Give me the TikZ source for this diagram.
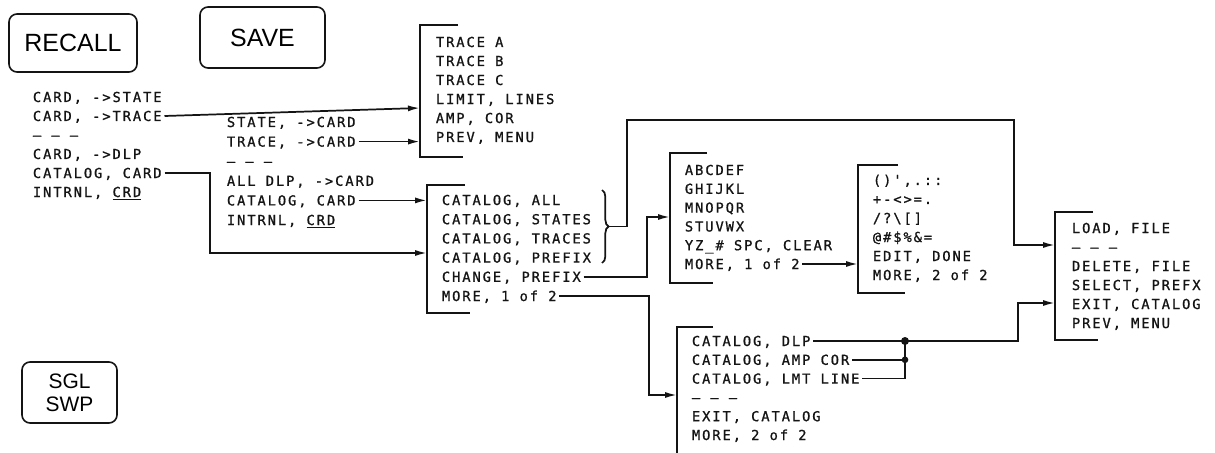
\documentclass[tikz,border=0pt]{standalone}
\usepackage{fontspec}
\usepackage{tikz}
\usetikzlibrary{calc,arrows,arrows.meta,decorations.pathreplacing}
\newfontfamily\plotfont[LetterSpace=14,FakeBold=1]{DejaVu Sans Mono}
\newfontfamily\keyfont{Liberation Sans}
\definecolor{cInk}{RGB}{20,20,20}
\newcommand{\tripdash}{\textendash\ \textendash\ \textendash}

\begin{document}
\begin{tikzpicture}[x=0.75pt,y=-0.75pt,
  item/.style={anchor=west,inner xsep=2pt,inner ysep=0pt,text height=7.5pt,text depth=0pt,cInk,font=\plotfont\fontsize{10.3}{12}\selectfont},
  key/.style={draw=cInk,line width=1.2pt,rounded corners=6pt,align=center,font=\keyfont\fontsize{18.7}{19}\selectfont},
  bar/.style={cInk,line width=1.3pt},
  wire/.style={cInk,line width=1.3pt},
  conn/.style={wire,-{Latex[length=9pt,width=4.5pt]}}]
  \useasboundingbox (0,0) rectangle (1215,453);

  \node[key,minimum width=96pt,minimum height=43.5pt] (recall) at (73,43) {RECALL};
  \node[key,minimum width=93.75pt,minimum height=45.75pt] (save) at (262.5,37.5) {SAVE};
  \node[key,minimum width=71.25pt,minimum height=45.75pt,font=\keyfont\fontsize{15.7}{17}\selectfont] (sglswp) at (69.5,392.5) {SGL\\SWP};

  \foreach \t [count=\i] in {{CARD, ->STATE},{CARD, ->TRACE},{\tripdash},{CARD, ->DLP},{CATALOG, CARD},{INTRNL, \underline{CRD}}}
    \node[item] (rc\i) at (30,{97+19*(\i-1)}) {\t};
  \foreach \t [count=\i] in {{STATE, ->CARD},{TRACE, ->CARD},{\tripdash},{ALL DLP, ->CARD},{CATALOG, CARD},{INTRNL, \underline{CRD}}}
    \node[item] (sv\i) at (224,{122+19.6*(\i-1)}) {\t};
  \foreach \t [count=\i] in {{TRACE A},{TRACE B},{TRACE C},{LIMIT, LINES},{AMP, COR},{PREV, MENU}}
    \node[item] (tr\i) at (433,{42+19*(\i-1)}) {\t};
  \foreach \t [count=\i] in {{CATALOG, ALL},{CATALOG, STATES},{CATALOG, TRACES},{CATALOG, PREFIX},{CHANGE, PREFIX},{MORE, 1 of 2}}
    \node[item] (ct\i) at (439,{200+19.2*(\i-1)}) {\t};
  \foreach \t [count=\i] in {{ABCDEF},{GHIJKL},{MNOPQR},{STUVWX},{YZ\_\# SPC, CLEAR},{MORE, 1 of 2}}
    \node[item] (al\i) at (682,{170+18.8*(\i-1)}) {\t};
  \foreach \t [count=\i] in {{()',.::},{+-<>=.},{/?\textbackslash[]},{@\#\$\%\&=},{EDIT, DONE},{MORE, 2 of 2}}
    \node[item] (sy\i) at (870,{180+19*(\i-1)}) {\t};
  \foreach \t [count=\i] in {{CATALOG, DLP},{CATALOG, AMP COR},{CATALOG, LMT LINE},{\tripdash},{EXIT, CATALOG},{MORE, 2 of 2}}
    \node[item] (dl\i) at (689,{341+18.8*(\i-1)}) {\t};
  \foreach \t [count=\i] in {{LOAD, FILE},{\tripdash},{DELETE, FILE},{SELECT, PREFX},{EXIT, CATALOG},{PREV, MENU}}
    \node[item] (ld\i) at (1069,{228+19*(\i-1)}) {\t};

  \draw[bar] (458,25) -- (420,25) -- (420,157) -- (463,157);
  \draw[bar] (465,185) -- (427,185) -- (427,313) -- (470,313);
  \draw[bar] (707,153) -- (670,153) -- (670,283) -- (713,283);
  \draw[bar] (898,165) -- (858,165) -- (858,293) -- (905,293);
  \draw[bar] (713,327) -- (677,327) -- (677,453);
  \draw[bar] (1093,212) -- (1055,212) -- (1055,340) -- (1098,340);

  \coordinate (trin) at (420,108);
  \coordinate (trbar) at (420,0);
  \coordinate (ctbar) at (427,0);
  \coordinate (albar) at (670,0);
  \coordinate (sybar) at (858,0);
  \coordinate (dlbar) at (677,0);
  \coordinate (ldbar) at (1055,0);
  \coordinate (rcbend) at (210,253);
  \coordinate (chbend) at (647,217);
  \coordinate (mobend) at (649,395);
  \coordinate (brtop) at (602,190);
  \coordinate (brbot) at (602,263);
  \coordinate (brtip) at (609,226.5);
  \coordinate (uptop) at (627,120);
  \coordinate (dnbend) at (1014,245);
  \coordinate (dlbend) at (1018,303);
  \coordinate (dljoin) at (905,0);

  \draw[conn] (rc2.east) -- (trin);
  \draw[conn] (sv2.east) -- (sv2.east -| trbar);
  \draw[conn] (sv5.east) -- (sv5.east -| ctbar);
  \draw[conn] (rc5.east) -| (rcbend) -- (rcbend -| ctbar);
  \draw[conn] (ct5.east) -| (chbend) -- (chbend -| albar);
  \draw[conn] (ct6.east) -| (mobend) -- (mobend -| dlbar);
  \draw[conn] (al6.east) -- (al6.east -| sybar);
  \draw[wire,decorate,decoration={brace,amplitude=5pt}] (brtop) -- (brbot);
  \draw[conn] (brtip) -| (uptop) -| (dnbend) -- (dnbend -| ldbar);
  \draw[conn] (dl1.east) -| (dlbend) -- (dlbend -| ldbar);
  \draw[wire] (dl2.east) -- (dl2.east -| dljoin);
  \draw[wire] (dl3.east) -| (dl1.east -| dljoin);
  \fill[cInk] (dl1.east -| dljoin) circle (3pt);
  \fill[cInk] (dl2.east -| dljoin) circle (2.5pt);
\end{tikzpicture}
\end{document}
